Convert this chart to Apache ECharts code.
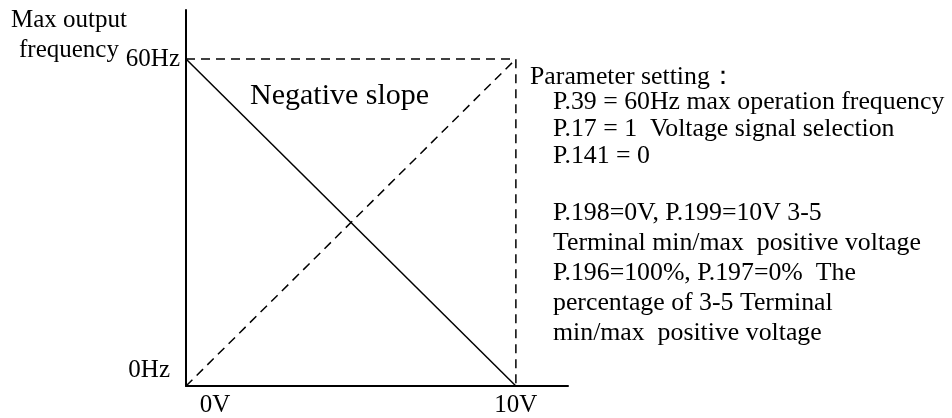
<!DOCTYPE html>
<html>
<head>
<meta charset="utf-8">
<script src="https://cdn.jsdelivr.net/npm/echarts@6/dist/echarts.min.js"></script>
<style>
  html, body { margin: 0; padding: 0; background: #fff; }
  #chart { width: 952px; height: 418px; }
</style>
</head>
<body>
<div id="chart"></div>
<script>
// Analog input voltage (V) at both ends of the range
const voltage = [0, 10];
// Output frequency (Hz) for the negative slope (solid) and the opposite slope (dashed)
const negativeSlope = [60, 0];
const positiveSlope = [0, 60];
const maxFreq = 60;
// Axis extents (slightly beyond the data so the axes overshoot)
const xAxisMax = 11.58;
const yAxisMax = 69;
// Tick labels
const xTickLabels = { 0: '0V', 10: '10V' };
const yTickLabels = { 0: '0Hz', 60: '60Hz' };
// Texts
const yAxisTitle = ['Max output', 'frequency'];
const slopeTitle = 'Negative slope';
const paramHeading = 'Parameter setting\uFF1A';
const paramLinesA = [
  'P.39 = 60Hz max operation frequency',
  'P.17 = 1  Voltage signal selection',
  'P.141 = 0'
];
const paramLinesB = [
  'P.198=0V, P.199=10V 3-5',
  'Terminal min/max  positive voltage',
  'P.196=100%, P.197=0%  The',
  'percentage of 3-5 Terminal',
  'min/max  positive voltage'
];

const FONT = '"Liberation Serif", "Times New Roman", serif';
const chart = echarts.init(document.getElementById('chart'));

const solidData = voltage.map((v, i) => [v, negativeSlope[i]]);
const dashedData = voltage.map((v, i) => [v, positiveSlope[i]]);
const frameData = [[voltage[0], maxFreq], [voltage[1], maxFreq], [voltage[1], 0]];

const dashLine = { color: '#000', width: 1.5, type: [9, 6] };

chart.setOption({
  animation: false,
  backgroundColor: '#fff',
  grid: { left: 186, right: 384, top: 10, bottom: 31, containLabel: false },
  xAxis: {
    type: 'value', min: 0, max: xAxisMax, interval: 10,
    axisLine: { show: true, onZero: false, lineStyle: { color: '#000', width: 2 } },
    axisTick: { show: false },
    splitLine: { show: false },
    axisLabel: {
      margin: 7, color: '#000', fontFamily: FONT, fontSize: 25,
      showMaxLabel: false,
      formatter: v => v === 0 ? '{s|' + xTickLabels[0] + '}' : (xTickLabels[v] || ''),
      rich: { s: { fontFamily: FONT, fontSize: 25, color: '#000', padding: [0, 0, 0, 58] } }
    }
  },
  yAxis: {
    type: 'value', min: 0, max: yAxisMax, interval: 60,
    axisLine: { show: true, onZero: false, lineStyle: { color: '#000', width: 2 } },
    axisTick: { show: false },
    splitLine: { show: false },
    axisLabel: {
      margin: 6, color: '#000', fontFamily: FONT, fontSize: 25,
      showMaxLabel: false,
      formatter: v => v === 0 ? '{s|' + yTickLabels[0] + '}' : (yTickLabels[v] || ''),
      rich: { s: { fontFamily: FONT, fontSize: 25, color: '#000', padding: [0, 10, 32, 0] } }
    }
  },
  series: [
    { type: 'line', data: solidData, symbol: 'none', lineStyle: { color: '#000', width: 1.5 } },
    { type: 'line', data: dashedData, symbol: 'none', lineStyle: dashLine },
    { type: 'line', data: frameData, symbol: 'none', lineStyle: dashLine }
  ],
  graphic: [
    { type: 'text', x: 69, y: 5, style: { text: yAxisTitle.join('\n'), font: '25px ' + FONT, fill: '#000', align: 'center', verticalAlign: 'top', lineHeight: 30 } },
    { type: 'text', x: 250, y: 96, style: { text: slopeTitle, font: '30px ' + FONT, fill: '#000', align: 'left', verticalAlign: 'middle' } },
    { type: 'text', x: 530, y: 63.5, style: { text: paramHeading, font: '25.8px ' + FONT, fill: '#000', align: 'left', verticalAlign: 'top', lineHeight: 27 } },
    { type: 'text', x: 553, y: 88.5, style: { text: paramLinesA.join('\n'), font: '25.8px ' + FONT, fill: '#000', align: 'left', verticalAlign: 'top', lineHeight: 27 } },
    { type: 'text', x: 553, y: 198, style: { text: paramLinesB.join('\n'), font: '25.8px ' + FONT, fill: '#000', align: 'left', verticalAlign: 'top', lineHeight: 30 } }
  ]
});
</script>
</body>
</html>
